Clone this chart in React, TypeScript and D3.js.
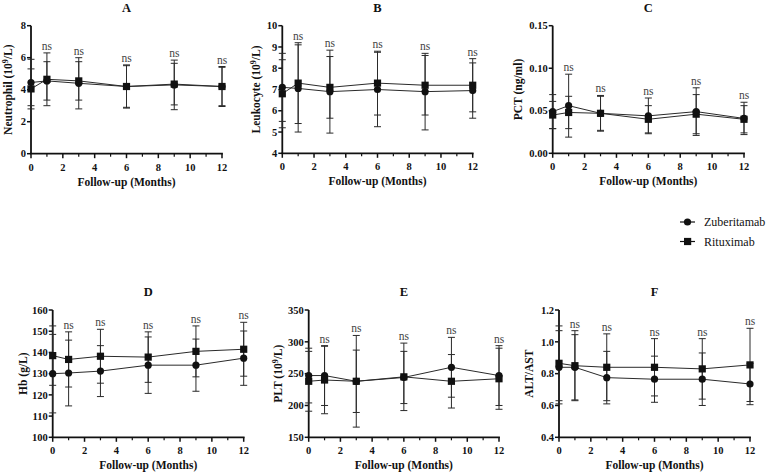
import React, { useEffect, useRef } from 'react';
import * as d3 from 'd3';

// follow-up time points (months)
const months = [0, 1, 3, 6, 9, 12];
const monthTicks = [0, 2, 4, 6, 8, 10, 12];
const monthMinor = [1, 3, 5, 7, 9, 11];
const seriesNames = ['Zuberitamab', 'Rituximab'];

// A - neutrophil
const neutZubMean = [4.45, 4.55, 4.4, 4.2, 4.3, 4.2];
const neutZubSd = [1.45, 1.2, 1.6, 1.3, 1.55, 1.2];
const neutRitMean = [4.05, 4.65, 4.55, 4.2, 4.35, 4.2];
const neutRitSd = [1.25, 1.65, 1.2, 1.35, 1.3, 1.25];

// B - leukocyte
const leukZubMean = [7.1, 7.05, 6.9, 7.0, 6.9, 6.95];
const leukZubSd = [1.6, 2.05, 1.95, 1.75, 1.8, 1.3];
const leukRitMean = [6.8, 7.3, 7.1, 7.3, 7.2, 7.2];
const leukRitSd = [1.6, 1.9, 1.45, 1.5, 1.4, 1.25];

// C - PCT
const pctZubMean = [0.049, 0.056, 0.047, 0.044, 0.049, 0.041];
const pctZubSd = [0.02, 0.037, 0.021, 0.021, 0.028, 0.019];
const pctRitMean = [0.045, 0.048, 0.047, 0.04, 0.046, 0.04];
const pctRitSd = [0.016, 0.019, 0.02, 0.016, 0.023, 0.016];

// D - Hb
const hbZubMean = [130, 130.3, 131.2, 134, 134, 137.3];
const hbZubSd = [18.5, 15.5, 12, 13.3, 12.3, 12.8];
const hbRitMean = [138.5, 136.7, 138.2, 137.8, 140.5, 141.5];
const hbRitSd = [14, 13, 12.7, 11.9, 12, 12.7];

// E - PLT
const pltZubMean = [247, 247, 238, 244, 260, 247];
const pltZubSd = [43, 47, 49, 41, 47, 47];
const pltRitMean = [238, 240, 238, 245, 238, 242];
const pltRitSd = [47, 53, 72, 53, 42, 48];

// F - ALT/AST
const altZubMean = [0.84, 0.84, 0.775, 0.765, 0.765, 0.735];
const altZubSd = [0.23, 0.205, 0.165, 0.145, 0.165, 0.13];
const altRitMean = [0.865, 0.85, 0.84, 0.84, 0.83, 0.855];
const altRitSd = [0.235, 0.22, 0.21, 0.18, 0.19, 0.23];

const panelTitles = ['A', 'B', 'C', 'D', 'E', 'F'];
const yLabels = [
  ['Neutrophil (10', '9', '/L)'],
  ['Leukocyte (10', '9', '/L)'],
  ['PCT (ng/ml)', '', ''],
  ['Hb (g/L)', '', ''],
  ['PLT (10', '9', '/L)'],
  ['ALT/AST', '', ''],
];
const yDomains = [[0, 8], [4, 10], [0, 0.15], [100, 160], [150, 350], [0.4, 1.2]];
const yTicks = [
  [0, 2, 4, 6, 8],
  [4, 5, 6, 7, 8, 9, 10],
  [0, 0.05, 0.1, 0.15],
  [100, 110, 120, 130, 140, 150, 160],
  [150, 200, 250, 300, 350],
  [0.4, 0.6, 0.8, 1.0, 1.2],
];
const yFormats = ['d', 'd', '.2f', 'd', 'd', '.1f'];

const zubMeans = [neutZubMean, leukZubMean, pctZubMean, hbZubMean, pltZubMean, altZubMean];
const zubSds = [neutZubSd, leukZubSd, pctZubSd, hbZubSd, pltZubSd, altZubSd];
const ritMeans = [neutRitMean, leukRitMean, pctRitMean, hbRitMean, pltRitMean, altRitMean];
const ritSds = [neutRitSd, leukRitSd, pctRitSd, hbRitSd, pltRitSd, altRitSd];

// plot boxes: left, right, top, bottom, y-title x
const boxes = [
  [31, 222, 25.7, 153.7, 8],
  [282.3, 472.7, 25.7, 153.3, 256],
  [552.7, 744, 25.7, 153.3, 518],
  [52.7, 243.7, 310, 437.3, 23],
  [308.7, 499, 310, 437.3, 278],
  [559, 750, 310, 437.3, 529],
];

const FONT = 'Liberation Serif, Times New Roman, DejaVu Serif, serif';

const App = () => {
  const ref = useRef<SVGSVGElement | null>(null);

  useEffect(() => {
    const svg = d3.select(ref.current);
    svg.selectAll('*').remove();

    panelTitles.forEach((title, p) => {
      const [x0, x1, yTop, yBot, labelX] = boxes[p];
      const x = d3.scaleLinear().domain([0, 12]).range([x0, x1]);
      const y = d3.scaleLinear().domain(yDomains[p]).range([yBot, yTop]);
      const g = svg.append('g');

      // axes
      g.append('line').attr('x1', x0).attr('x2', x0).attr('y1', yTop).attr('y2', yBot)
        .attr('stroke', '#111').attr('stroke-width', 1.8);
      g.append('line').attr('x1', x0 - 0.9).attr('x2', x1 + 0.9).attr('y1', yBot).attr('y2', yBot)
        .attr('stroke', '#111').attr('stroke-width', 1.8);

      const fmt = d3.format(yFormats[p]);
      yTicks[p].forEach((t) => {
        g.append('line').attr('x1', x0 - 4).attr('x2', x0).attr('y1', y(t)).attr('y2', y(t))
          .attr('stroke', '#111').attr('stroke-width', 1.5);
        g.append('text').attr('x', x0 - 5).attr('y', y(t)).attr('dy', '0.35em')
          .attr('text-anchor', 'end').style('font-family', FONT).attr('font-weight', 'bold')
          .attr('font-size', 10.5).attr('fill', '#111').text(fmt(t));
      });
      monthTicks.forEach((t) => {
        g.append('line').attr('x1', x(t)).attr('x2', x(t)).attr('y1', yBot).attr('y2', yBot + 4.5)
          .attr('stroke', '#111').attr('stroke-width', 1.5);
        g.append('text').attr('x', x(t)).attr('y', yBot + 17)
          .attr('text-anchor', 'middle').style('font-family', FONT).attr('font-weight', 'bold')
          .attr('font-size', 10.5).attr('fill', '#111').text(t);
      });
      monthMinor.forEach((t) => {
        g.append('line').attr('x1', x(t)).attr('x2', x(t)).attr('y1', yBot).attr('y2', yBot + 3)
          .attr('stroke', '#111').attr('stroke-width', 1.2);
      });

      // titles
      g.append('text').attr('x', (x0 + x1) / 2).attr('y', yTop - 14)
        .attr('text-anchor', 'middle').style('font-family', FONT).attr('font-weight', 'bold')
        .attr('font-size', 12.5).attr('fill', '#111').text(title);
      g.append('text').attr('x', (x0 + x1) / 2).attr('y', yBot + 32)
        .attr('text-anchor', 'middle').style('font-family', FONT).attr('font-weight', 'bold')
        .attr('font-size', 11.5).attr('fill', '#111').text('Follow-up (Months)');

      const [pre, sup, post] = yLabels[p];
      const yl = g.append('text')
        .attr('transform', `translate(${labelX},${(yTop + yBot) / 2}) rotate(-90)`)
        .attr('dy', '0.35em')
        .attr('text-anchor', 'middle').style('font-family', FONT).attr('font-weight', 'bold')
        .attr('font-size', 11.5).attr('fill', '#111');
      yl.append('tspan').text(pre);
      if (sup) {
        yl.append('tspan').attr('dy', -4).attr('font-size', 8).text(sup);
        yl.append('tspan').attr('dy', 4).text(post);
      }

      const groups = [
        { mean: zubMeans[p], sd: zubSds[p], shape: 'circle' },
        { mean: ritMeans[p], sd: ritSds[p], shape: 'square' },
      ];

      // error bars
      groups.forEach((s) => {
        months.forEach((m, i) => {
          const hi = y(s.mean[i] + s.sd[i]);
          const lo = y(s.mean[i] - s.sd[i]);
          const cx = x(m);
          g.append('line').attr('x1', cx).attr('x2', cx).attr('y1', hi).attr('y2', lo)
            .attr('stroke', '#2a2a2a').attr('stroke-width', 1);
          [hi, lo].forEach((yy) => {
            g.append('line').attr('x1', cx - 3.5).attr('x2', cx + 3.5).attr('y1', yy).attr('y2', yy)
              .attr('stroke', '#2a2a2a').attr('stroke-width', 1);
          });
        });
      });

      // connecting lines
      const line = d3.line<number>().x((_, i) => x(months[i])).y((d) => y(d));
      groups.forEach((s) => {
        g.append('path').attr('d', line(s.mean) || '').attr('fill', 'none')
          .attr('stroke', '#2a2a2a').attr('stroke-width', 1);
      });

      // markers
      groups.forEach((s) => {
        months.forEach((m, i) => {
          if (s.shape === 'circle') {
            g.append('circle').attr('cx', x(m)).attr('cy', y(s.mean[i])).attr('r', 3.6).attr('fill', '#111');
          } else {
            g.append('rect').attr('x', x(m) - 3.6).attr('y', y(s.mean[i]) - 3.6)
              .attr('width', 7.2).attr('height', 7.2).attr('fill', '#111');
          }
        });
      });

      // significance labels
      months.forEach((m, i) => {
        if (i === 0) return;
        const top = Math.min(...groups.map((s) => y(s.mean[i] + s.sd[i])));
        g.append('text').attr('x', x(m)).attr('y', top - 3)
          .attr('text-anchor', 'middle').style('font-family', FONT)
          .attr('font-size', 11.5).attr('fill', '#444').text('ns');
      });
    });

    // legend
    const legend = svg.append('g');
    seriesNames.forEach((name, i) => {
      const ly = 222 + i * 19.5;
      legend.append('line').attr('x1', 680).attr('x2', 695).attr('y1', ly).attr('y2', ly)
        .attr('stroke', '#111').attr('stroke-width', 1.2);
      if (i === 0) {
        legend.append('circle').attr('cx', 687.5).attr('cy', ly).attr('r', 3.6).attr('fill', '#111');
      } else {
        legend.append('rect').attr('x', 684).attr('y', ly - 3.6).attr('width', 7.2).attr('height', 7.2).attr('fill', '#111');
      }
      legend.append('text').attr('x', 704).attr('y', ly).attr('dy', '0.35em')
        .style('font-family', FONT).attr('font-size', 12).attr('fill', '#111').text(name);
    });
  }, []);

  return (
    <svg ref={ref} width={769} height={473}
      style={{ position: 'absolute', left: 0, top: 0, background: '#fff' }} />
  );
};

export default App;
